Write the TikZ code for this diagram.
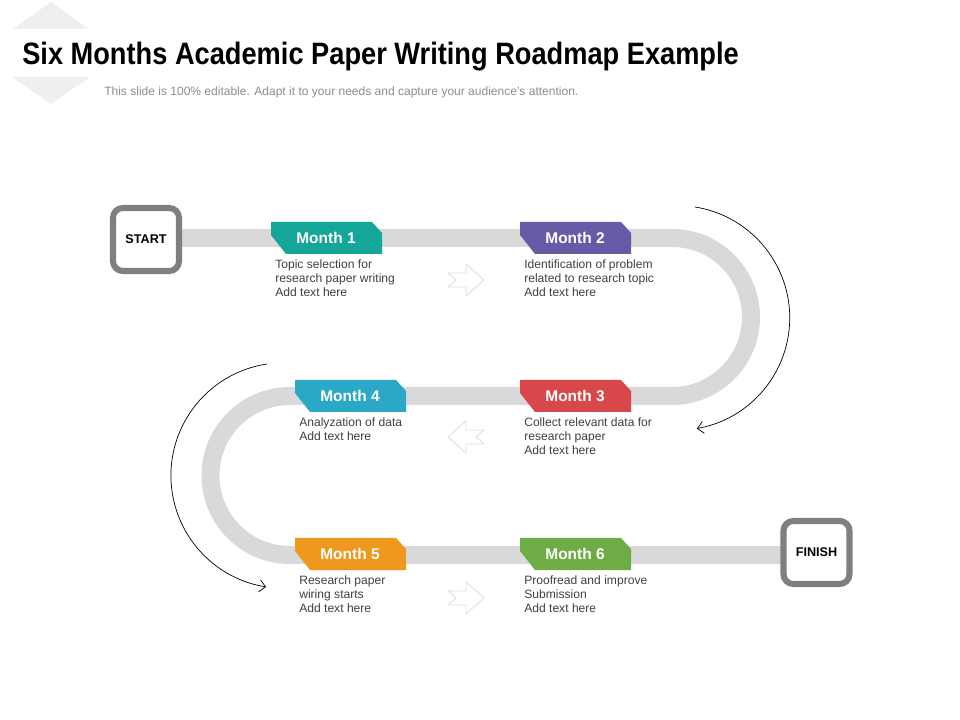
\documentclass[tikz,border=0pt]{standalone}
\usepackage{fontspec}
\setmainfont{Liberation Sans}
\usepackage{graphicx}
\usetikzlibrary{arrows.meta, positioning}
\definecolor{trackgray}{HTML}{D9D9D9}
\definecolor{boxgray}{HTML}{7F7F7F}
\definecolor{descgray}{HTML}{404040}
\definecolor{subgray}{HTML}{8C8C8C}
\definecolor{arrowgray}{HTML}{DEDEDE}
\definecolor{diamondgray}{HTML}{EFEFEF}
\definecolor{mTeal}{HTML}{14A698}
\definecolor{mPurple}{HTML}{675BA7}
\definecolor{mRed}{HTML}{D8474A}
\definecolor{mCyan}{HTML}{2AA8C6}
\definecolor{mOrange}{HTML}{EE981E}
\definecolor{mGreen}{HTML}{6EAC46}

\begin{document}
\begin{tikzpicture}[x=0.025cm, y=-0.025cm,
  track/.style={draw=trackgray, line width=12.8pt},
  endbox/.style={draw=boxgray, line width=4.3pt, fill=white, rounded corners=7pt, minimum width=1.65cm, minimum height=1.575cm, font=\bfseries\fontsize{9}{11}\selectfont},
  tagtext/.style={text=white, font=\bfseries\fontsize{11}{13}\selectfont},
  desc/.style={anchor=north west, inner sep=0pt, align=left, text=descgray, font=\fontsize{8.6}{10}\selectfont},
  hollow/.style={draw=arrowgray, fill=white, line width=0.6pt},
  curvearrow/.style={-{Straight Barb[length=1.5mm, width=3mm]}, line width=0.5pt}
]
\useasboundingbox (0,0) rectangle (960,720);

% header
\fill[diamondgray] (13,29) -- (51,2) -- (89,29) -- cycle;
\fill[diamondgray] (12,77) -- (90,77) -- (51,104) -- cycle;
\node[anchor=base west, inner sep=0pt, font=\bfseries\fontsize{22}{26}\selectfont] (title) at (22,65) {\scalebox{0.88}[1]{Six Months Academic Paper Writing Roadmap Example}};
\node[anchor=base west, inner sep=0pt, text=subgray, font=\fontsize{8.55}{10}\selectfont] (subtitle) at (104,96) {This slide is 100\% editable. Adapt it to your needs and capture your audience's attention.};

% road
\draw[track] (150,238) -- (672,238) arc[start angle=-90, end angle=90, radius=79]
  -- (290,396) arc[start angle=-90, end angle=-270, radius=79.5] -- (810,555);

\node[endbox] (start) at (146,239.5) {START};
\node[endbox] (finish) at (816.5,552.5) {FINISH};

% month tags
\foreach \n/\x/\y/\col in {1/271/222/mTeal, 2/520/222/mPurple, 3/520/380/mRed, 4/295/380/mCyan, 5/295/538/mOrange, 6/520/538/mGreen} {
  \fill[\col] (\x,\y) -- ++(101,0) -- ++(10,11) -- ++(0,21) -- ++(-96,0) -- ++(-15,-19) -- cycle;
  \node[tagtext] (tag\n) at (\x+55,\y+16) {Month \n};
}

\node[desc] (desc1) at (275,259.5) {Topic selection for\\research paper writing\\Add text here};
\node[desc] (desc2) at (524,259.5) {Identification of problem\\related to research topic\\Add text here};
\node[desc] (desc3) at (524,417.5) {Collect relevant data for\\research paper\\Add text here};
\node[desc] (desc4) at (299,417.5) {Analyzation of data\\Add text here};
\node[desc] (desc5) at (299,575.5) {Research paper\\wiring starts\\Add text here};
\node[desc] (desc6) at (524,575.5) {Proofread and improve\\Submission\\Add text here};

% hollow arrows
\foreach \cx/\cy/\dir in {466/280/1, 466/437/-1, 466/598/1} {
  \draw[hollow, xshift=\cx*0.025cm, yshift=-\cy*0.025cm, xscale=\dir]
    (-18,-7) -- (0,-7) -- (0,-16) -- (18,0) -- (0,16) -- (0,7) -- (-18,7) -- (-10,0) -- cycle;
}

% turn arrows
\coordinate (turnR) at (695,207);
\coordinate (turnL) at (267,364);
\draw[curvearrow] (turnR) arc[start angle=-81, end angle=80, radius=112.3];
\draw[curvearrow] (turnL) arc[start angle=-98.5, end angle=-261, radius=112.75];
\end{tikzpicture}
\end{document}
